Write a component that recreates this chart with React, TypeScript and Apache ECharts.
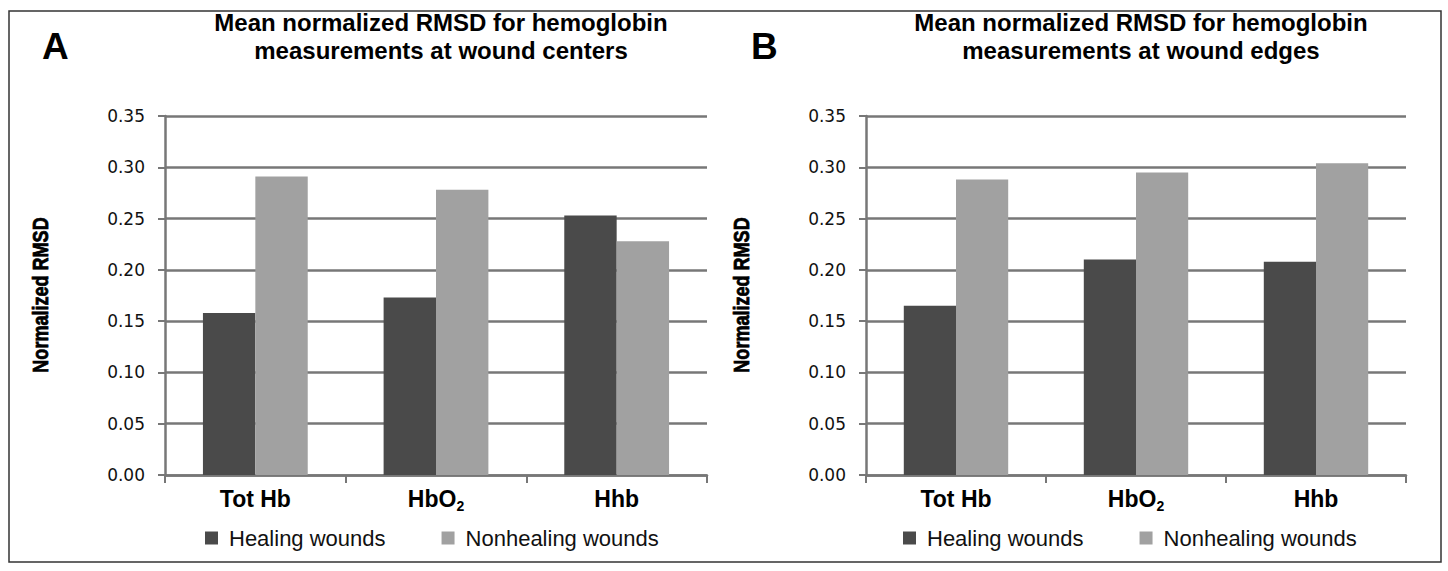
import React, { useEffect, useRef } from "react";
import * as echarts from "echarts";

const categories = ["Tot Hb", "HbO2", "Hhb"];
const seriesNames = ["Healing wounds", "Nonhealing wounds"];
const centersHealing = [0.158, 0.173, 0.253];
const centersNonhealing = [0.291, 0.278, 0.228];
const edgesHealing = [0.165, 0.21, 0.208];
const edgesNonhealing = [0.288, 0.295, 0.304];
const titleA = "Mean normalized RMSD for hemoglobin\nmeasurements at wound centers";
const titleB = "Mean normalized RMSD for hemoglobin\nmeasurements at wound edges";
const yAxisName = "Normalized RMSD";

const DARK = "#4a4a4a";
const LIGHT = "#a1a1a1";
const AXIS = "#777777";
const SANS = "'Liberation Sans', Arial, Helvetica, sans-serif";
const TICKFONT = "'DejaVu Sans', Verdana, sans-serif";

function catFormatter(v: string) {
  if (v === "HbO2") return "{b|HbO}{s|2}";
  return "{b|" + v + "}";
}

function makeX(gridIndex: number) {
  return {
    type: "category",
    gridIndex,
    data: categories,
    axisLine: { show: true, lineStyle: { color: AXIS, width: 2.5 } },
    axisTick: { show: true, length: 8, lineStyle: { color: AXIS, width: 2 } },
    axisLabel: {
      margin: 11,
      formatter: catFormatter,
      rich: {
        b: { fontFamily: SANS, fontWeight: "bold", fontSize: 23, color: "#000", lineHeight: 26 },
        s: { fontFamily: SANS, fontWeight: "bold", fontSize: 14, color: "#000", lineHeight: 26, padding: [13, 0, 0, 0] },
      },
    },
    splitLine: { show: false },
  };
}

function makeY(gridIndex: number) {
  return {
    type: "value",
    gridIndex,
    min: 0,
    max: 0.35,
    interval: 0.05,
    axisLine: { show: true, lineStyle: { color: AXIS, width: 2.5 } },
    axisTick: { show: true, length: 7, lineStyle: { color: AXIS, width: 2 } },
    axisLabel: {
      margin: 20,
      fontFamily: TICKFONT,
      fontSize: 17,
      color: "#111",
      formatter: (v: number) => v.toFixed(2),
    },
    splitLine: { show: true, lineStyle: { color: AXIS, width: 2.5 } },
  };
}

function makeBar(name: string, data: number[], idx: number, color: string) {
  return {
    type: "bar",
    name,
    data,
    xAxisIndex: idx,
    yAxisIndex: idx,
    barGap: "0%",
    barCategoryGap: "42%",
    itemStyle: { color },
  };
}

function makeLegend(left: number) {
  return {
    data: seriesNames,
    left,
    top: 522,
    icon: "rect",
    itemWidth: 13,
    itemHeight: 13,
    itemGap: 56,
    textStyle: { fontFamily: SANS, fontSize: 22, color: "#111", padding: [0, 0, 0, 6] },
  };
}

function yName(x: number) {
  return {
    type: "text",
    x,
    y: 295,
    rotation: Math.PI / 2,
    scaleX: 0.82,
    style: {
      text: yAxisName,
      font: "bold 22px 'Liberation Sans', Arial, sans-serif",
      fill: "#000",
      stroke: "#000",
      lineWidth: 0.8,
      align: "center",
      verticalAlign: "middle",
    },
  };
}

function letter(x: number, t: string) {
  return {
    type: "text",
    x,
    y: 28,
    style: { text: t, font: "bold 37px 'Liberation Sans', Arial, sans-serif", fill: "#000" },
  };
}

export default function App() {
  const ref = useRef<HTMLDivElement>(null);
  useEffect(() => {
    if (!ref.current) return;
    const chart = echarts.init(ref.current, null, { renderer: "svg" });
    const titleStyle = { fontFamily: SANS, fontWeight: "bold", fontSize: 24, lineHeight: 28, color: "#000" };
    chart.setOption({
      animation: false,
      backgroundColor: "#fff",
      title: [
        { text: titleA, left: 436, top: 3, textAlign: "center", textStyle: titleStyle },
        { text: titleB, left: 1136, top: 3, textAlign: "center", textStyle: titleStyle },
      ],
      legend: [makeLegend(200), makeLegend(898)],
      grid: [
        { left: 165, right: 741, top: 116, bottom: 96 },
        { left: 866, right: 42, top: 116, bottom: 96 },
      ],
      xAxis: [makeX(0), makeX(1)],
      yAxis: [makeY(0), makeY(1)],
      series: [
        makeBar(seriesNames[0], centersHealing, 0, DARK),
        makeBar(seriesNames[1], centersNonhealing, 0, LIGHT),
        makeBar(seriesNames[0], edgesHealing, 1, DARK),
        makeBar(seriesNames[1], edgesNonhealing, 1, LIGHT),
      ],
      graphic: [
        {
          type: "rect",
          shape: { x: 9, y: 11, width: 1432, height: 551 },
          style: { fill: "none", stroke: "#333", lineWidth: 1.5 },
          silent: true,
        },
        letter(42, "A"),
        letter(751, "B"),
        yName(40),
        yName(741),
      ],
    });
    return () => chart.dispose();
  }, []);
  return (
    <div
      ref={ref}
      style={{ position: "fixed", left: 0, top: 0, width: 1448, height: 571, background: "#fff" }}
    />
  );
}
